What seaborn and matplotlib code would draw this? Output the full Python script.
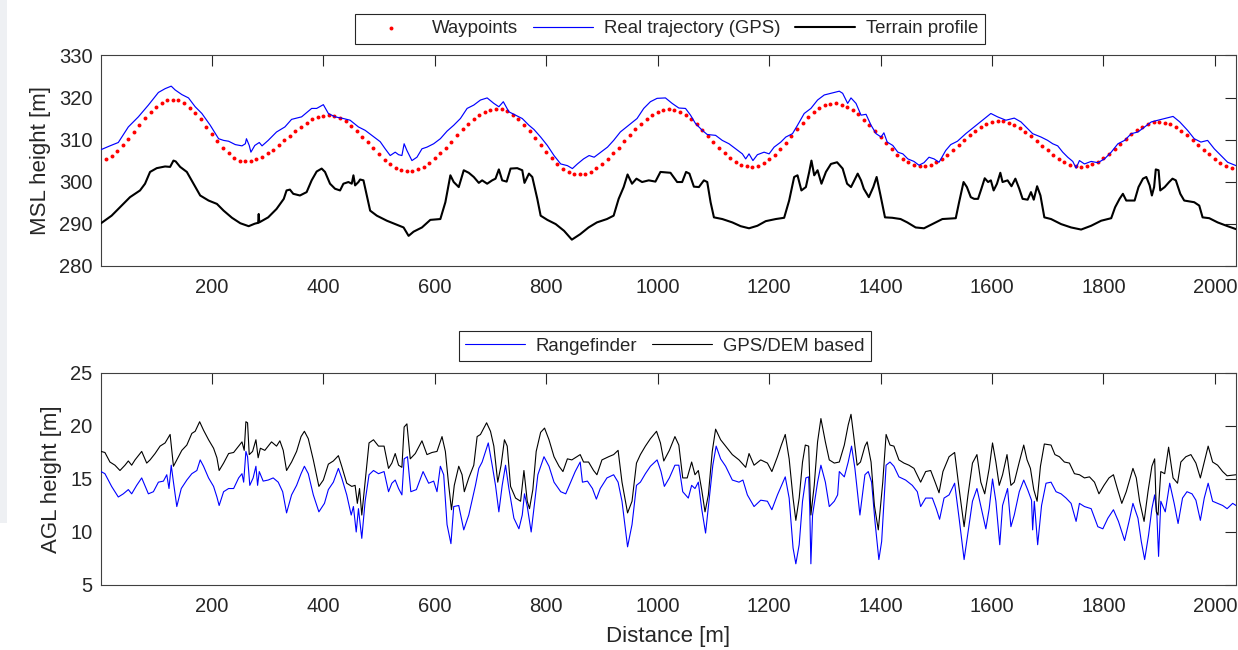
import numpy as np
import matplotlib
matplotlib.use("Agg")
import matplotlib.pyplot as plt
import seaborn as sns
from matplotlib.patches import Rectangle

sns.set_theme(style="white")
plt.rcParams['font.family'] = ['Liberation Sans', 'DejaVu Sans']

# ---------------- data ----------------
# Waypoints: one every 10 m, starting at 10 m
waypoints_msl = [
    305.4, 306.2, 307.3, 308.6, 310.2, 311.8, 313.5, 315.1, 316.6, 317.8, 318.7, 319.3, 319.5,
    319.3, 318.7, 317.6, 316.3, 314.8, 313.0, 311.3, 309.6, 308.0, 306.7, 305.7, 305.0, 304.8,
    304.9, 305.3, 305.9, 306.7, 307.6, 308.7, 309.8, 310.9, 312.1, 313.1, 314.0, 314.8, 315.4, 315.7, 315.8,
    315.6, 315.1, 314.3, 313.3, 312.1, 310.7, 309.3, 307.9, 306.5, 305.2, 304.2, 303.3, 302.8, 302.5,
    302.6, 302.9, 303.5, 304.4, 305.5, 306.7, 308.1, 309.5, 311.0, 312.4, 313.7, 314.9, 315.9, 316.6, 317.1, 317.3,
    317.2, 316.7, 315.9, 314.8, 313.5, 312.0, 310.3, 308.7, 307.0, 305.5, 304.2, 303.1, 302.3, 301.8, 301.7,
    301.9, 302.4, 303.2, 304.1, 305.3, 306.7, 308.1, 309.6, 311.1, 312.5, 313.8, 315.0, 315.9, 316.6, 317.1, 317.2,
    317.1, 316.6, 315.8, 314.8, 313.7, 312.3, 310.9, 309.4, 308.0, 306.7, 305.5, 304.6, 303.9, 303.6, 303.5,
    303.8, 304.4, 305.3, 306.4, 307.8, 309.2, 310.8, 312.4, 313.9, 315.3, 316.5, 317.5, 318.2, 318.5, 318.6,
    318.3, 317.8, 317.0, 316.0, 314.7, 313.4, 312.0, 310.5, 309.1, 307.7, 306.4, 305.4, 304.6, 304.0, 303.7,
    303.7, 304.0, 304.6, 305.3, 306.3, 307.4, 308.6, 309.8, 311.0, 312.0, 313.0, 313.7, 314.2, 314.4,
    314.3, 314.0, 313.5, 312.8, 311.9, 310.8, 309.7, 308.5, 307.4, 306.3, 305.4, 304.6, 304.0, 303.6, 303.5,
    303.6, 304.1, 304.7, 305.6, 306.6, 307.8, 309.0, 310.2, 311.3, 312.3, 313.1, 313.8, 314.1, 314.2,
    314.0, 313.6, 312.9, 312.1, 311.1, 310.0, 308.8, 307.6, 306.5, 305.4, 304.5, 303.8, 303.3,
]
waypoints_dist = np.arange(1, len(waypoints_msl) + 1) * 10

# Real trajectory (GPS): (distance m, MSL m)
gps_track = [
    (1, 307.6), (17, 308.5), (32, 309.3), (50, 313.0), (68, 315.4), (86, 318.2), (104, 321.2), (116, 322.1),
    (127, 322.7), (134, 321.8), (146, 320.7), (158, 319.9), (170, 317.8), (182, 316.2), (197, 313.4),
    (212, 310.2), (221, 309.8), (230, 309.6), (242, 308.8), (254, 308.5), (260, 309.0), (262, 310.2),
    (267, 308.6), (270, 307.0), (277, 308.6), (285, 309.3), (290, 308.5), (301, 309.8), (316, 311.8),
    (331, 313.0), (343, 314.8), (361, 315.4), (379, 317.4), (388, 317.4), (400, 318.3), (409, 316.2),
    (421, 315.4), (436, 315.0), (448, 314.6), (463, 313.0), (475, 312.2), (487, 311.0), (502, 309.5),
    (511, 307.8), (520, 306.2), (529, 307.0), (535, 306.4), (541, 306.2), (545, 309.0), (550, 307.4),
    (559, 305.0), (568, 305.8), (577, 307.8), (586, 308.2), (598, 309.0), (610, 310.2), (622, 312.0),
    (634, 313.4), (646, 315.0), (658, 317.4), (670, 318.2), (682, 319.4), (694, 319.9), (706, 318.6),
    (715, 317.8), (723, 319.0), (733, 316.6), (745, 315.8), (757, 315.0), (769, 313.4), (778, 312.4),
    (790, 310.6), (802, 308.6), (814, 306.2), (826, 304.2), (838, 303.8), (847, 303.1), (856, 304.2),
    (867, 305.4), (877, 306.2), (886, 305.8), (898, 307.0), (910, 308.2), (921, 309.8), (933, 311.8),
    (948, 313.4), (963, 315.0), (975, 317.4), (987, 319.0), (999, 319.8), (1014, 319.9), (1026, 318.6),
    (1038, 317.5), (1050, 317.4), (1059, 315.8), (1068, 313.8), (1080, 312.2), (1089, 311.2), (1104, 311.0),
    (1116, 309.8), (1128, 309.0), (1140, 307.8), (1152, 306.6), (1158, 305.4), (1164, 306.6), (1171, 305.0),
    (1179, 306.4), (1191, 307.0), (1200, 306.6), (1209, 308.2), (1221, 309.4), (1230, 310.6), (1242, 311.4),
    (1251, 313.4), (1263, 316.2), (1275, 317.4), (1287, 319.4), (1299, 320.6), (1311, 321.0), (1326, 321.5),
    (1332, 321.0), (1341, 318.6), (1347, 319.9), (1356, 318.6), (1365, 315.8), (1374, 316.0), (1383, 313.4),
    (1392, 311.4), (1401, 310.6), (1406, 311.6), (1412, 309.4), (1422, 308.6), (1431, 307.0), (1440, 306.6),
    (1449, 305.4), (1460, 304.8), (1469, 303.9), (1478, 304.5), (1487, 305.8), (1496, 305.4), (1505, 304.6),
    (1517, 307.4), (1526, 308.8), (1538, 309.6), (1553, 311.4), (1568, 313.0), (1583, 314.6), (1598, 316.2),
    (1610, 315.4), (1625, 314.6), (1640, 315.1), (1652, 314.2), (1661, 313.0), (1673, 311.4), (1688, 310.6),
    (1700, 309.8), (1709, 309.0), (1718, 308.5), (1727, 307.0), (1736, 305.8), (1745, 304.8), (1751, 303.2),
    (1757, 305.0), (1766, 304.2), (1778, 304.8), (1790, 304.5), (1802, 305.4), (1814, 307.0), (1826, 309.0),
    (1838, 309.8), (1850, 311.4), (1862, 311.8), (1874, 313.0), (1886, 314.2), (1898, 314.6), (1910, 315.0),
    (1925, 315.5), (1937, 314.2), (1951, 312.2), (1963, 310.2), (1975, 309.4), (1987, 309.8), (1999, 307.8),
    (2011, 306.2), (2023, 304.6), (2038, 303.8),
]

# Terrain profile: (distance m, MSL m)
terrain_profile = [
    (1, 290.1), (20, 291.9), (38, 294.3), (53, 296.3), (71, 297.9), (80, 299.5), (89, 302.3), (101, 303.2),
    (116, 303.6), (125, 303.5), (131, 305.0), (135, 304.8), (143, 303.5), (155, 302.3), (167, 299.5),
    (179, 296.7), (194, 295.5), (209, 294.7), (221, 293.1), (236, 291.4), (251, 290.1), (266, 289.4),
    (277, 290.0), (283, 290.2), (284, 292.3), (285, 290.3), (301, 291.5), (316, 293.5), (329, 295.9),
    (334, 297.9), (340, 298.1), (346, 297.1), (358, 296.7), (370, 297.5), (379, 300.3), (388, 302.4),
    (397, 303.1), (403, 302.3), (412, 299.5), (421, 298.3), (430, 297.9), (436, 299.5), (445, 299.9),
    (451, 299.5), (454, 301.5), (457, 299.1), (463, 299.9), (466, 300.5), (472, 300.3), (478, 296.7),
    (484, 293.1), (496, 291.9), (508, 291.1), (514, 290.7), (529, 289.9), (544, 289.1), (553, 287.1),
    (562, 288.1), (577, 289.1), (592, 290.9), (610, 291.1), (619, 295.1), (628, 301.5), (634, 299.9),
    (643, 298.7), (652, 302.7), (661, 302.1), (670, 301.1), (679, 299.7), (685, 300.3), (694, 299.5),
    (703, 300.3), (709, 300.7), (715, 302.9), (721, 300.3), (729, 300.0), (736, 303.1), (748, 303.2),
    (757, 302.7), (761, 299.7), (769, 301.9), (775, 301.1), (784, 295.9), (790, 291.9), (802, 290.9),
    (817, 289.9), (832, 288.3), (846, 286.2), (861, 287.5), (876, 289.1), (891, 290.3), (909, 291.1),
    (921, 291.9), (930, 295.9), (939, 298.7), (946, 301.7), (954, 299.5), (962, 300.7), (972, 299.9),
    (984, 300.3), (996, 300.0), (1005, 302.3), (1023, 302.1), (1035, 299.9), (1044, 299.9), (1051, 302.3),
    (1057, 301.9), (1065, 298.8), (1074, 298.7), (1083, 300.3), (1089, 299.9), (1095, 295.1), (1101, 291.5),
    (1116, 291.1), (1134, 290.3), (1149, 289.4), (1164, 288.9), (1179, 289.5), (1194, 290.6), (1212, 291.1),
    (1227, 291.4), (1236, 295.5), (1245, 301.1), (1251, 301.5), (1258, 297.9), (1266, 298.7), (1272, 302.3),
    (1276, 305.0), (1281, 301.5), (1287, 302.7), (1294, 299.5), (1302, 302.3), (1311, 304.2), (1322, 304.6),
    (1332, 303.1), (1340, 299.5), (1347, 298.7), (1353, 300.3), (1359, 301.9), (1365, 300.3), (1370, 298.3),
    (1379, 296.3), (1387, 298.7), (1393, 301.1), (1400, 296.7), (1408, 291.5), (1421, 291.4), (1436, 291.1),
    (1448, 290.3), (1463, 289.1), (1478, 288.9), (1493, 289.9), (1511, 291.1), (1535, 291.3), (1541, 295.1),
    (1549, 299.9), (1555, 298.7), (1562, 296.3), (1568, 295.9), (1575, 295.9), (1581, 298.3), (1587, 300.8),
    (1593, 299.9), (1598, 300.3), (1603, 297.9), (1609, 299.5), (1615, 302.1), (1619, 299.9), (1628, 300.3),
    (1635, 298.9), (1642, 300.7), (1649, 298.3), (1655, 295.9), (1664, 295.7), (1670, 297.5), (1675, 295.7),
    (1681, 298.9), (1687, 296.7), (1694, 291.5), (1706, 291.1), (1724, 289.9), (1742, 289.1), (1760, 288.6),
    (1778, 289.5), (1796, 290.7), (1814, 291.3), (1821, 293.9), (1829, 295.9), (1835, 297.1), (1841, 295.5),
    (1856, 295.5), (1863, 298.7), (1871, 300.7), (1877, 301.1), (1883, 299.1), (1887, 296.7), (1891, 298.7),
    (1894, 302.9), (1899, 302.7), (1902, 297.9), (1910, 298.7), (1918, 299.9), (1924, 300.7), (1930, 300.3),
    (1938, 297.1), (1945, 295.5), (1963, 295.1), (1972, 294.3), (1978, 291.5), (1990, 291.3), (2005, 290.3),
    (2023, 289.4), (2038, 288.7),
]

# Rangefinder AGL: (distance m, AGL m)
rangefinder_agl = [
    (1, 15.7), (8, 15.5), (20, 14.3), (32, 13.3), (41, 13.6), (50, 14.0), (56, 13.6), (65, 14.4), (74, 15.1),
    (86, 13.6), (95, 13.8), (104, 14.7), (113, 14.8), (119, 15.4), (123, 14.1), (127, 16.3), (131, 14.7),
    (137, 12.4), (145, 14.1), (155, 14.9), (164, 15.5), (173, 15.8), (179, 16.8), (185, 16.2), (194, 15.1),
    (203, 14.3), (209, 13.3), (213, 12.5), (221, 13.8), (230, 14.1), (239, 14.1), (248, 15.1), (254, 15.5),
    (257, 14.7), (261, 17.6), (264, 17.1), (268, 14.4), (274, 15.1), (279, 16.2), (282, 14.4), (285, 15.7),
    (292, 14.8), (301, 14.9), (310, 15.1), (319, 14.7), (327, 13.8), (334, 11.8), (343, 13.5), (352, 14.4),
    (360, 15.5), (366, 16.2), (373, 15.5), (382, 13.5), (392, 11.9), (402, 12.7), (409, 14.0), (418, 14.7),
    (427, 16.0), (433, 15.1), (442, 13.5), (450, 11.6), (454, 12.4), (459, 10.0), (463, 12.2), (469, 9.4),
    (475, 12.9), (482, 15.4), (490, 15.8), (499, 15.5), (509, 15.7), (517, 13.8), (523, 14.6), (529, 14.9),
    (535, 14.1), (541, 13.5), (545, 16.9), (551, 17.1), (557, 13.8), (567, 14.0), (579, 15.7), (589, 14.6),
    (598, 14.8), (604, 13.8), (610, 16.2), (616, 15.4), (622, 10.7), (629, 8.9), (634, 12.4), (643, 12.5),
    (652, 10.2), (661, 11.6), (673, 14.4), (679, 16.0), (685, 16.6), (696, 18.4), (703, 16.3), (709, 14.4),
    (715, 11.9), (721, 14.4), (727, 16.3), (733, 14.1), (742, 11.3), (751, 10.3), (757, 11.6), (761, 13.6),
    (766, 12.4), (773, 10.0), (779, 12.7), (785, 15.4), (796, 17.1), (805, 16.2), (814, 14.7), (826, 13.8),
    (835, 13.6), (844, 14.7), (852, 15.7), (861, 16.6), (865, 14.7), (874, 14.8), (883, 14.1), (890, 13.1),
    (897, 14.1), (909, 15.1), (921, 15.4), (929, 14.7), (936, 12.9), (946, 8.6), (954, 10.7), (962, 14.4),
    (969, 14.7), (978, 15.5), (987, 16.2), (999, 16.8), (1006, 15.7), (1012, 14.3), (1021, 15.1), (1031, 16.3),
    (1038, 16.3), (1045, 13.8), (1055, 13.2), (1061, 14.4), (1067, 14.1), (1073, 14.7), (1079, 12.2),
    (1086, 9.9), (1092, 12.9), (1099, 16.3), (1105, 18.1), (1113, 16.9), (1122, 16.2), (1134, 14.9),
    (1146, 14.7), (1153, 14.9), (1161, 13.5), (1173, 12.4), (1185, 13.0), (1197, 12.9), (1205, 12.1),
    (1215, 13.5), (1229, 15.2), (1236, 13.2), (1243, 8.5), (1248, 7.0), (1254, 8.8), (1260, 12.9),
    (1266, 15.1), (1271, 15.2), (1273, 12.2), (1275, 7.0), (1278, 11.6), (1287, 14.7), (1293, 16.3),
    (1301, 14.7), (1308, 12.4), (1317, 12.9), (1323, 13.5), (1326, 15.7), (1335, 15.2), (1342, 16.6),
    (1348, 18.1), (1354, 16.0), (1363, 11.6), (1372, 15.4), (1378, 15.7), (1384, 14.7), (1390, 11.0),
    (1397, 7.4), (1402, 9.1), (1410, 16.3), (1417, 16.6), (1424, 16.2), (1433, 15.2), (1445, 14.9),
    (1457, 14.4), (1466, 13.8), (1472, 12.4), (1481, 13.2), (1493, 13.2), (1500, 12.2), (1506, 11.2),
    (1514, 13.2), (1523, 13.5), (1533, 14.6), (1541, 11.3), (1550, 7.4), (1557, 10.0), (1565, 12.9),
    (1573, 14.1), (1581, 12.2), (1589, 10.3), (1595, 12.2), (1601, 15.0), (1607, 12.9), (1614, 8.8),
    (1619, 12.5), (1628, 14.1), (1634, 10.5), (1640, 11.6), (1649, 13.8), (1657, 14.9), (1664, 14.0),
    (1671, 13.0), (1673, 10.2), (1676, 12.9), (1682, 8.8), (1689, 12.5), (1697, 14.6), (1706, 14.7),
    (1715, 13.8), (1724, 13.6), (1733, 13.2), (1742, 12.7), (1751, 11.0), (1757, 12.7), (1766, 12.4),
    (1778, 12.2), (1790, 10.5), (1799, 10.3), (1808, 11.3), (1818, 12.1), (1827, 11.0), (1838, 9.2),
    (1846, 11.0), (1853, 12.7), (1862, 11.3), (1868, 9.1), (1874, 7.4), (1881, 9.7), (1887, 12.2),
    (1892, 13.5), (1896, 11.6), (1899, 7.7), (1903, 12.9), (1911, 11.9), (1919, 14.6), (1927, 12.7),
    (1934, 10.8), (1942, 13.2), (1950, 13.8), (1959, 13.6), (1966, 13.0), (1974, 11.1), (1981, 13.2),
    (1988, 14.6), (1996, 12.9), (2005, 12.7), (2014, 12.5), (2022, 12.2), (2032, 12.7), (2038, 12.5),
]

# GPS/DEM based AGL: (distance m, AGL m)
gps_dem_agl = [
    (1, 17.6), (8, 17.5), (17, 16.6), (26, 16.3), (35, 15.8), (44, 16.3), (50, 16.7), (56, 16.3), (62, 16.8),
    (74, 17.6), (83, 16.5), (89, 16.8), (98, 17.4), (107, 18.1), (116, 18.4), (125, 19.2), (131, 16.2),
    (137, 16.8), (146, 17.7), (155, 18.2), (164, 19.3), (170, 19.5), (178, 20.4), (185, 19.6), (194, 18.7),
    (203, 17.9), (209, 17.0), (213, 15.8), (221, 16.5), (230, 17.4), (239, 17.5), (248, 18.1), (254, 18.5),
    (258, 17.7), (261, 20.4), (264, 20.3), (267, 17.3), (273, 17.6), (279, 18.7), (283, 17.0), (287, 17.9),
    (295, 17.7), (307, 18.5), (316, 18.1), (322, 18.6), (328, 17.7), (334, 15.8), (343, 16.6), (352, 17.6),
    (360, 19.0), (366, 19.5), (373, 18.8), (382, 16.8), (392, 14.3), (400, 14.9), (409, 16.4), (418, 16.7),
    (427, 17.2), (433, 16.2), (442, 14.6), (451, 14.3), (457, 14.4), (461, 12.7), (465, 14.1), (469, 11.6),
    (475, 14.7), (482, 18.4), (490, 18.7), (499, 18.1), (509, 18.1), (517, 16.0), (523, 16.5), (529, 17.4),
    (535, 16.3), (541, 16.1), (545, 19.9), (550, 20.2), (556, 16.9), (565, 17.4), (577, 18.6), (586, 17.3),
    (595, 17.5), (604, 17.6), (613, 19.0), (619, 17.6), (625, 14.4), (630, 12.1), (635, 14.4), (643, 16.2),
    (649, 15.4), (653, 13.8), (661, 15.1), (670, 16.3), (676, 19.0), (682, 19.2), (693, 20.3), (700, 19.5),
    (706, 18.1), (713, 14.7), (719, 16.3), (725, 18.7), (730, 18.1), (736, 14.3), (745, 13.2), (754, 12.9),
    (760, 15.8), (766, 12.9), (770, 12.2), (776, 14.0), (782, 17.6), (790, 19.4), (797, 19.8), (805, 18.7),
    (814, 17.1), (823, 16.2), (830, 15.7), (838, 16.9), (846, 16.8), (855, 17.1), (861, 17.3), (867, 16.6),
    (876, 16.6), (885, 15.8), (891, 15.4), (900, 16.8), (912, 17.1), (921, 17.3), (929, 17.7), (936, 14.7),
    (946, 11.8), (954, 12.9), (962, 16.5), (969, 17.3), (978, 18.1), (987, 18.8), (998, 19.5), (1005, 18.4),
    (1011, 16.7), (1021, 17.7), (1031, 19.0), (1038, 18.2), (1045, 15.1), (1053, 15.1), (1061, 16.6),
    (1067, 15.4), (1073, 15.8), (1079, 14.0), (1085, 11.9), (1091, 13.5), (1098, 17.6), (1104, 19.7),
    (1113, 18.7), (1122, 18.1), (1134, 17.3), (1146, 16.8), (1158, 16.1), (1164, 17.4), (1173, 16.3),
    (1185, 16.8), (1197, 16.5), (1205, 15.7), (1215, 17.1), (1222, 18.2), (1229, 19.2), (1236, 16.9),
    (1243, 13.2), (1248, 11.1), (1254, 13.2), (1260, 16.6), (1265, 18.2), (1271, 18.1), (1275, 11.6),
    (1281, 14.4), (1287, 18.5), (1293, 20.7), (1301, 18.5), (1308, 16.8), (1317, 16.5), (1326, 16.6),
    (1335, 18.2), (1342, 20.1), (1347, 21.1), (1352, 19.0), (1358, 16.3), (1364, 16.6), (1372, 18.1),
    (1376, 18.5), (1383, 16.6), (1389, 12.5), (1396, 10.2), (1404, 14.7), (1410, 19.2), (1417, 18.2),
    (1424, 18.1), (1433, 16.8), (1442, 16.5), (1451, 16.3), (1460, 16.0), (1472, 14.7), (1481, 15.7),
    (1490, 15.8), (1498, 14.7), (1505, 13.7), (1512, 15.7), (1523, 17.1), (1533, 17.5), (1541, 14.1),
    (1550, 10.5), (1557, 13.5), (1565, 16.5), (1573, 17.3), (1580, 14.7), (1587, 13.6), (1595, 16.0),
    (1601, 18.4), (1607, 16.6), (1613, 14.4), (1619, 15.4), (1627, 17.3), (1634, 14.4), (1640, 14.7),
    (1649, 16.6), (1657, 18.2), (1663, 16.8), (1669, 16.0), (1675, 14.0), (1681, 12.9), (1687, 16.2),
    (1694, 18.3), (1706, 18.2), (1713, 17.3), (1721, 17.1), (1730, 16.6), (1739, 16.5), (1748, 15.5),
    (1757, 15.4), (1766, 15.1), (1775, 15.2), (1784, 14.7), (1792, 13.6), (1801, 14.4), (1810, 15.1),
    (1818, 15.4), (1825, 14.1), (1833, 12.7), (1841, 13.8), (1848, 15.1), (1853, 16.0), (1859, 15.1),
    (1865, 12.9), (1873, 11.0), (1880, 13.8), (1887, 16.2), (1892, 16.9), (1895, 11.9), (1898, 11.6),
    (1903, 15.7), (1910, 15.5), (1917, 18.0), (1925, 15.1), (1933, 14.6), (1939, 16.6), (1948, 17.1),
    (1957, 17.3), (1966, 16.5), (1974, 15.1), (1981, 16.6), (1988, 18.1), (1996, 16.6), (2005, 16.3),
    (2014, 15.7), (2022, 15.3), (2038, 15.4),
]

x_ticks = [200, 400, 600, 800, 1000, 1200, 1400, 1600, 1800, 2000]
msl_ticks = [280, 290, 300, 310, 320, 330]
agl_ticks = [5, 10, 15, 20, 25]

# ---------------- figure ----------------
TXT = '#262626'
fig = plt.figure(figsize=(12.38, 6.5), dpi=100)
fig.patches.append(Rectangle((0, 0.195), 7 / 1238, 0.805, transform=fig.transFigure,
                             facecolor='#eef0f3', edgecolor='none', zorder=-5))

ax1 = fig.add_axes([0.0816, 0.5912, 0.9168, 0.3235])
ax2 = fig.add_axes([0.0816, 0.1000, 0.9168, 0.3262])

def split(pairs):
    d, v = zip(*pairs)
    return np.array(d, float), np.array(v, float)

gd, gv = split(gps_track)
td, tv = split(terrain_profile)
rd, rv = split(rangefinder_agl)
dd, dv = split(gps_dem_agl)

sns.scatterplot(x=waypoints_dist, y=waypoints_msl, ax=ax1, color='red', s=8,
                linewidth=0, marker='o', label='Waypoints', zorder=2)
sns.lineplot(x=gd, y=gv, ax=ax1, color='blue', linewidth=0.85, estimator=None, sort=False,
             label='Real trajectory (GPS)', zorder=3)
sns.lineplot(x=td, y=tv, ax=ax1, color='black', linewidth=1.5, estimator=None, sort=False,
             label='Terrain profile', zorder=3)

sns.lineplot(x=rd, y=rv, ax=ax2, color='blue', linewidth=0.8, estimator=None, sort=False,
             label='Rangefinder', zorder=3)
sns.lineplot(x=dd, y=dv, ax=ax2, color='black', linewidth=0.8, estimator=None, sort=False,
             label='GPS/DEM based', zorder=3)

for ax, yt, lo, hi in [(ax1, msl_ticks, 280, 330), (ax2, agl_ticks, 5, 25)]:
    ax.set_xlim(1, 2038)
    ax.set_ylim(lo, hi)
    ax.set_xticks(x_ticks)
    ax.set_yticks(yt)
    ax.tick_params(direction='in', length=8, width=0.8, top=True, right=True,
                   labelsize=14.5, colors=TXT, pad=6)
    ax.tick_params(axis='x', pad=9)
    for sp in ax.spines.values():
        sp.set_color('#404040')
        sp.set_linewidth(0.8)
    ax.set_facecolor('white')
    ax.get_legend().remove()

ax1.set_xlabel('')
ax1.set_ylabel('MSL height [m]', fontsize=16, color=TXT, labelpad=6)
ax2.set_ylabel('AGL height [m]', fontsize=16, color=TXT, labelpad=6)
ax2.set_xlabel('Distance [m]', fontsize=16, color=TXT, labelpad=7)

h1, l1 = ax1.get_legend_handles_labels()
leg1 = fig.legend(h1, l1, loc='center', bbox_to_anchor=(0.541, 0.956), ncol=3,
                  fontsize=13.4, frameon=True, fancybox=False, framealpha=1,
                  edgecolor='#262626', handlelength=3.2, handletextpad=0.6,
                  columnspacing=0.8, borderpad=0.35, scatterpoints=1, markerscale=1.0)
leg1.get_frame().set_linewidth(0.8)
h2, l2 = ax2.get_legend_handles_labels()
leg2 = fig.legend(h2, l2, loc='center', bbox_to_anchor=(0.537, 0.4677), ncol=2,
                  fontsize=13.4, frameon=True, fancybox=False, framealpha=1,
                  edgecolor='#262626', handlelength=3.2, handletextpad=0.6,
                  columnspacing=0.8, borderpad=0.35)
leg2.get_frame().set_linewidth(0.8)
for lg in (leg1, leg2):
    for t in lg.get_texts():
        t.set_color(TXT)

fig.savefig('out.png', dpi=100, facecolor='white')
